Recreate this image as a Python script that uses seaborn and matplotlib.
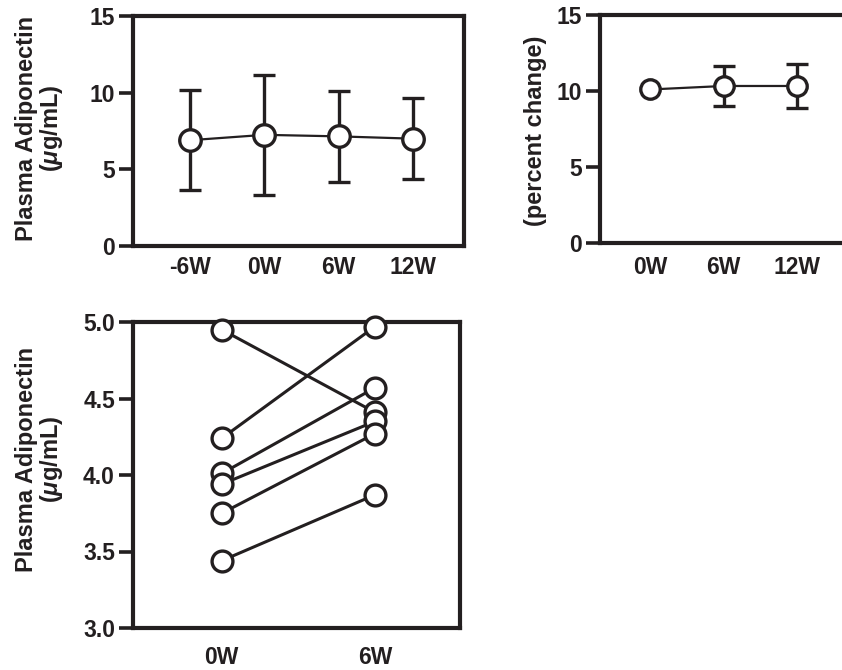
import matplotlib
matplotlib.use("Agg")
import matplotlib.pyplot as plt
import seaborn as sns
import numpy as np
import pandas as pd

# ---- data ----
tl_labels = ["-6W", "0W", "6W", "12W"]
tl_mean = [6.9, 7.25, 7.15, 7.0]
tl_sd = [3.28, 3.9, 2.95, 2.65]

tr_labels = ["0W", "6W", "12W"]
tr_mean = [10.1, 10.33, 10.33]
tr_sd = [0.0, 1.3, 1.43]

b_labels = ["0W", "6W"]
b_week0 = [4.95, 4.24, 4.01, 3.94, 3.75, 3.44]
b_week6 = [4.41, 4.97, 4.57, 4.35, 4.27, 3.87]

INK = "#231f20"

sns.set_style("ticks")
plt.rcParams["font.family"] = ["Liberation Sans", "DejaVu Sans"]
plt.rcParams["font.weight"] = "bold"
plt.rcParams["mathtext.fontset"] = "custom"
plt.rcParams["mathtext.rm"] = "Liberation Sans:bold"
plt.rcParams["mathtext.it"] = "Liberation Sans:italic:bold"
plt.rcParams["mathtext.default"] = "it"

fig = plt.figure(figsize=(8.42, 6.70), dpi=100)
W, H = 842.0, 670.0

def axes_px(x0, y0, x1, y1):
    return fig.add_axes([x0 / W, 1 - y1 / H, (x1 - x0) / W, (y1 - y0) / H])

def style(ax, xpad):
    for s in ax.spines.values():
        s.set_linewidth(3.0)
        s.set_color(INK)
    ax.tick_params(axis="y", length=10, width=2.6, color=INK, pad=3,
                   labelsize=16.5, labelcolor=INK)
    ax.tick_params(axis="x", length=0, pad=xpad, labelsize=16.5, labelcolor=INK)
    for t in ax.get_xticklabels() + ax.get_yticklabels():
        t.set_fontweight("bold")

# ---- top-left ----
ax1 = axes_px(133, 16, 464, 246)
x1 = np.arange(len(tl_labels))
ax1.errorbar(x1, tl_mean, yerr=tl_sd, fmt="none", ecolor=INK, elinewidth=2.4,
             capsize=8, capthick=2.4, zorder=2)
sns.lineplot(x=x1, y=tl_mean, ax=ax1, color=INK, linewidth=1.6, marker="o",
             markersize=15.5, markerfacecolor="white", markeredgecolor=INK,
             markeredgewidth=2.4, zorder=3)
ax1.set_xlim(-0.77, 3.69)
ax1.set_ylim(0, 15)
ax1.set_yticks([0, 5, 10, 15])
ax1.set_xticks(x1)
ax1.set_xticklabels(tl_labels)
ax1.set_ylabel("Plasma Adiponectin\n($\\mu$g/mL)", fontsize=17, fontweight="bold",
               color=INK, linespacing=1.0)
ax1.yaxis.set_label_coords(-0.205, 0.51)
style(ax1, 7)

# ---- top-right (cut off at figure edge) ----
ax2 = axes_px(600, 15, 931, 243)
x2 = np.arange(len(tr_labels))
ax2.errorbar(x2[1:], tr_mean[1:], yerr=tr_sd[1:], fmt="none", ecolor=INK,
             elinewidth=2.4, capsize=8, capthick=2.4, zorder=2)
sns.lineplot(x=x2, y=tr_mean, ax=ax2, color=INK, linewidth=1.6, marker="o",
             markersize=14, markerfacecolor="white", markeredgecolor=INK,
             markeredgewidth=2.4, zorder=3)
ax2.set_xlim(-0.68, 3.82)
ax2.set_ylim(0, 15)
ax2.set_yticks([0, 5, 10, 15])
ax2.set_xticks(x2)
ax2.set_xticklabels(tr_labels)
ax2.set_ylabel("(percent change)", fontsize=17, fontweight="bold", color=INK)
ax2.yaxis.set_label_coords(-0.16, 0.49)
style(ax2, 9)

# ---- bottom ----
ax3 = axes_px(133, 322, 460, 628)
n = len(b_week0)
df = pd.DataFrame({
    "subject": list(range(n)) * 2,
    "pos": [0] * n + [1] * n,
    "value": b_week0 + b_week6,
})
sns.lineplot(data=df, x="pos", y="value", units="subject", estimator=None, ax=ax3,
             color=INK, linewidth=2.2, marker="o", markersize=15,
             markerfacecolor="white", markeredgecolor=INK, markeredgewidth=2.4,
             zorder=3, clip_on=False)
ax3.set_xlim(-0.58, 1.556)
ax3.set_ylim(3.0, 5.0)
ax3.set_yticks([3.0, 3.5, 4.0, 4.5, 5.0])
ax3.set_yticklabels(["3.0", "3.5", "4.0", "4.5", "5.0"])
ax3.set_xticks([0, 1])
ax3.set_xticklabels(b_labels)
ax3.set_xlabel("")
ax3.set_ylabel("Plasma Adiponectin\n($\\mu$g/mL)", fontsize=17, fontweight="bold",
               color=INK, linespacing=1.0)
ax3.yaxis.set_label_coords(-0.208, 0.552)
style(ax3, 13)

fig.savefig("out.png", dpi=100)
